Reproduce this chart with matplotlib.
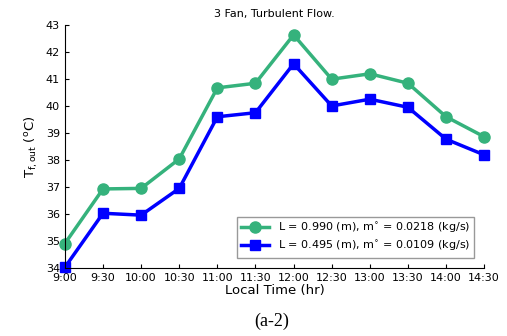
import numpy as np
import matplotlib.pyplot as plt

horas = ['9:00', '9:30', '10:00', '10:30', '11:00', '11:30', '12:00',
         '12:30', '13:00', '13:30', '14:00', '14:30']
t_largo = [34.91, 36.93, 36.95, 38.04, 40.67, 40.84, 42.63, 40.99, 41.19, 40.84, 39.60, 38.86]
t_corto = [34.03, 36.03, 35.96, 36.95, 39.60, 39.75, 41.56, 40.00, 40.25, 39.95, 38.77, 38.19]

x = np.arange(len(horas))

fig = plt.figure(figsize=(5.07, 3.36), dpi=100)
ax = fig.add_axes([0.128, 0.202, 0.827, 0.724])

ax.plot(x, t_largo, '-o', color='#35b27c', lw=2.5, ms=8, clip_on=False,
        label=r'L = 0.990 (m), m$^{\circ}$ = 0.0218 (kg/s)')
ax.plot(x, t_corto, '-s', color='#0000ff', lw=2.5, ms=7, clip_on=False,
        label=r'L = 0.495 (m), m$^{\circ}$ = 0.0109 (kg/s)')

ax.set_xlim(0, len(horas) - 1)
ax.set_ylim(34, 43)
ax.set_xticks(x)
ax.set_xticklabels(horas)
ax.set_yticks(np.arange(34, 44, 1))
ax.tick_params(direction='in', labelsize=8, length=3)
ax.spines['top'].set_visible(False)
ax.spines['right'].set_visible(False)

ax.set_title('3 Fan, Turbulent Flow.', fontsize=8, pad=6)
ax.set_xlabel('Local Time (hr)', fontsize=9.5, labelpad=1)
ax.set_ylabel(r'T$_{\rm f,out}$ ($^{\rm o}$C)', fontsize=9.5, labelpad=4)

leg = ax.legend(loc='lower right', fontsize=8, fancybox=False, framealpha=1,
                handlelength=2.5, borderpad=0.4, labelspacing=0.35,
                bbox_to_anchor=(0.99, 0.02))
leg.get_frame().set_edgecolor('#999999')

fig.text(0.535, 0.03, '(a-2)', fontsize=13, family='Liberation Serif', ha='center')

fig.savefig('out.png', dpi=100)
